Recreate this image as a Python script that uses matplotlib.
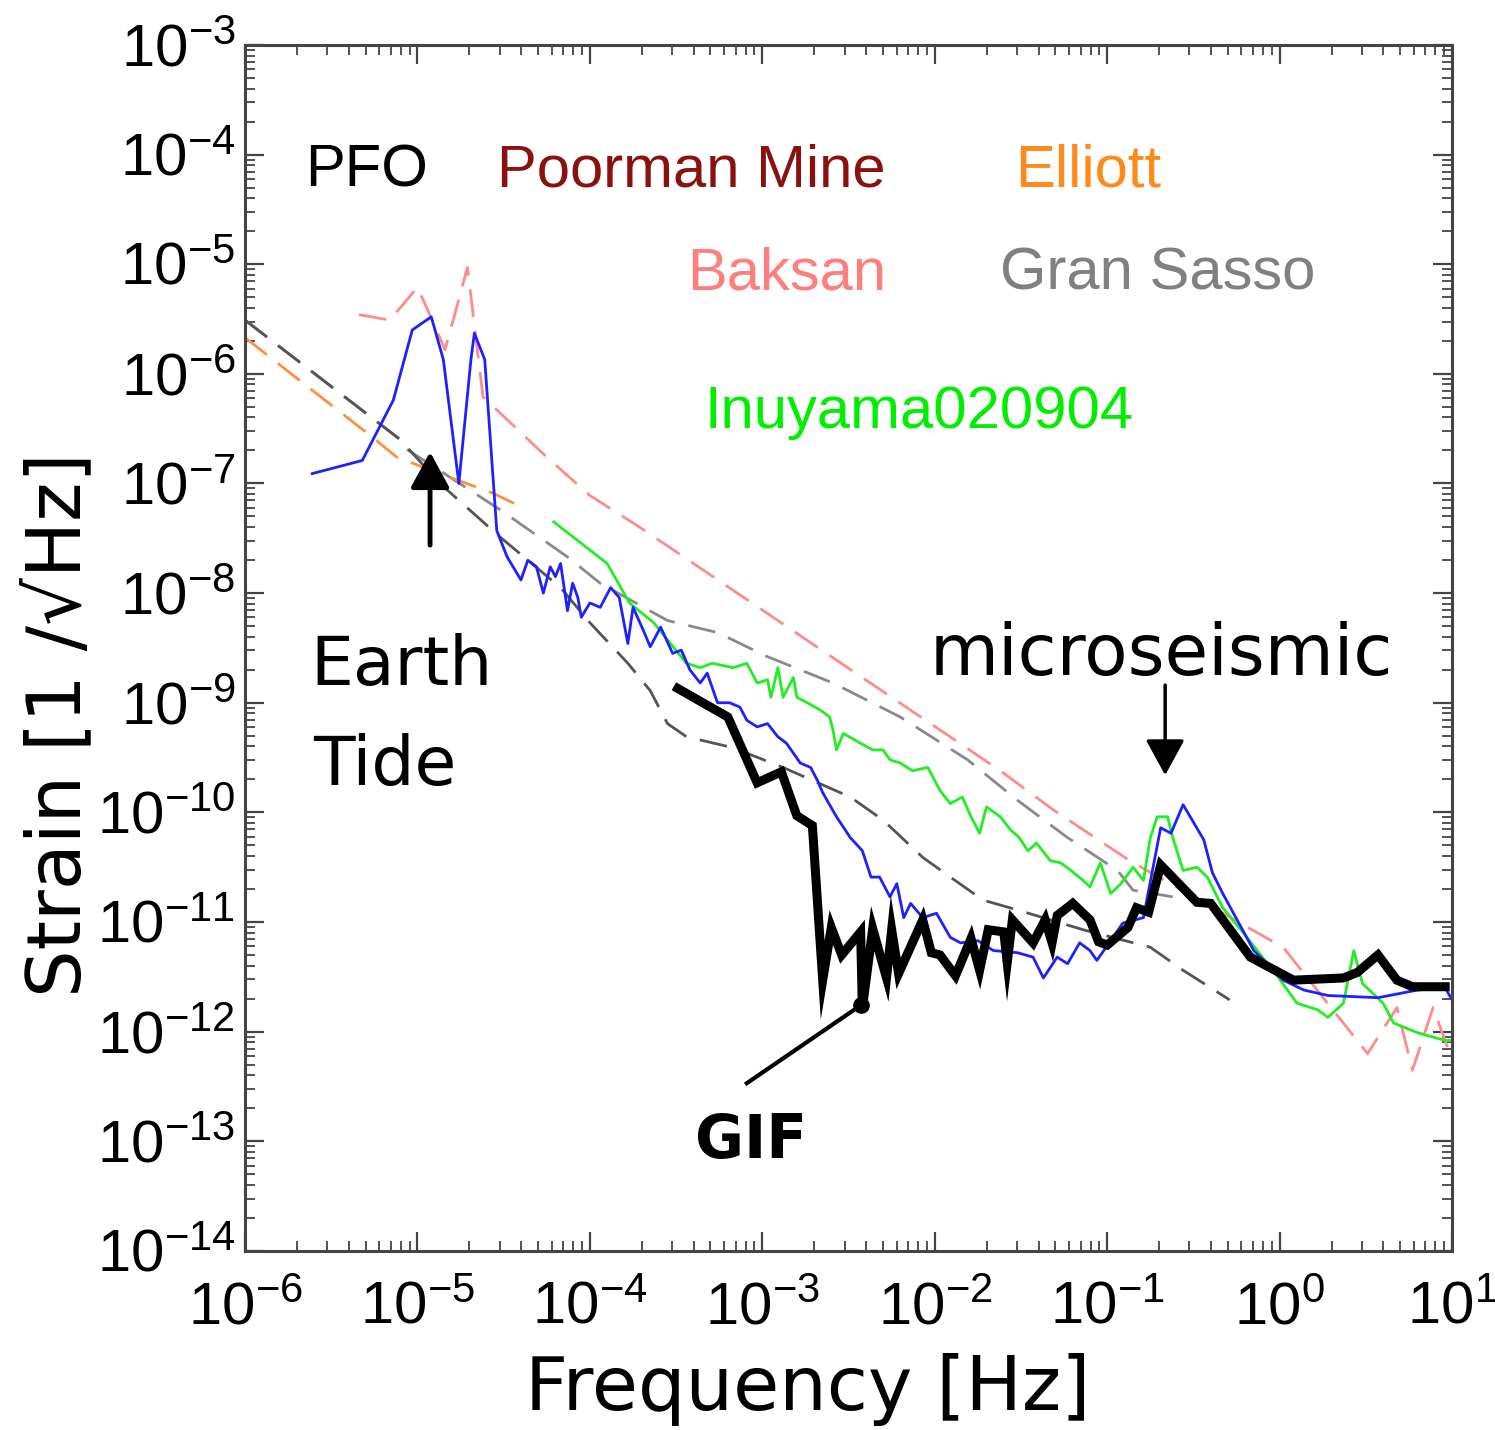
import matplotlib.pyplot as plt
from matplotlib.ticker import LogLocator, NullFormatter
import numpy as np

plt.rcParams['font.family'] = ['Liberation Sans', 'DejaVu Sans']
plt.rcParams['mathtext.default'] = 'regular'

# all values are log10: frequency [Hz] and strain [1/sqrt(Hz)]
blue_f = [-5.61, -5.32, -5.14, -5.03, -4.92, -4.85, -4.76, -4.69, -4.67, -4.61,
          -4.54, -4.48, -4.40, -4.36, -4.31, -4.27, -4.23, -4.20, -4.17, -4.13,
          -4.10, -4.07, -4.05, -4.00, -3.94, -3.88, -3.83, -3.78, -3.75, -3.69,
          -3.65, -3.59, -3.52, -3.47, -3.42, -3.36, -3.32, -3.26, -3.19, -3.13,
          -3.09, -3.03, -2.97, -2.91, -2.86, -2.78, -2.72, -2.68, -2.65, -2.57,
          -2.49, -2.42, -2.37, -2.32, -2.26, -2.22, -2.18, -2.14, -2.07, -1.99,
          -1.91, -1.85, -1.75, -1.66, -1.52, -1.43, -1.37, -1.29, -1.23, -1.16,
          -1.10, -1.06, -0.98, -0.91, -0.79, -0.69, -0.63, -0.56, -0.44, -0.39,
          -0.33, -0.15, 0.02, 0.14, 0.28, 0.57, 0.80, 0.96, 1.00]
blue_s = [-6.91, -6.79, -6.24, -5.60, -5.48, -5.87, -7.00, -5.87, -5.63, -5.87,
          -7.43, -7.67, -7.88, -7.70, -7.76, -8.00, -7.76, -7.85, -7.73, -8.16,
          -7.91, -8.04, -8.22, -8.09, -8.13, -7.95, -8.04, -8.46, -8.13, -8.34,
          -8.49, -8.31, -8.55, -8.52, -8.70, -8.82, -8.73, -9.00, -9.00, -9.04,
          -9.16, -9.22, -9.19, -9.31, -9.37, -9.55, -9.59, -9.71, -9.82, -10.04,
          -10.23, -10.35, -10.59, -10.59, -10.77, -10.65, -10.96, -10.83, -10.96, -10.92,
          -11.14, -11.19, -11.17, -11.26, -11.28, -11.32, -11.51, -11.32, -11.38, -11.19,
          -11.26, -11.35, -11.17, -11.01, -10.96, -10.14, -10.19, -9.93, -10.25, -10.55,
          -10.74, -11.26, -11.53, -11.62, -11.67, -11.69, -11.62, -11.60, -11.71]

inuyama_f = [-4.21, -3.90, -3.77, -3.63, -3.44, -3.36, -3.29, -3.17, -3.09, -3.03,
             -2.97, -2.95, -2.91, -2.88, -2.82, -2.80, -2.74, -2.66, -2.61, -2.59,
             -2.57, -2.53, -2.43, -2.36, -2.30, -2.26, -2.20, -2.13, -2.04, -1.97,
             -1.91, -1.84, -1.79, -1.74, -1.70, -1.62, -1.56, -1.51, -1.46, -1.41,
             -1.33, -1.27, -1.21, -1.14, -1.10, -1.04, -0.98, -0.92, -0.85, -0.79,
             -0.75, -0.71, -0.65, -0.62, -0.56, -0.48, -0.42, -0.33, -0.21, -0.01,
             0.10, 0.22, 0.28, 0.37, 0.43, 0.48, 0.60, 0.66, 0.80, 0.96, 1.00]
inuyama_s = [-7.35, -7.73, -8.09, -8.27, -8.64, -8.68, -8.64, -8.68, -8.64, -8.82,
             -8.79, -8.95, -8.68, -8.95, -8.77, -8.95, -9.00, -9.07, -9.13, -9.25,
             -9.43, -9.28, -9.37, -9.43, -9.43, -9.52, -9.55, -9.62, -9.59, -9.80,
             -9.92, -9.86, -10.04, -10.19, -9.95, -10.04, -10.16, -10.23, -10.35, -10.28,
             -10.44, -10.46, -10.53, -10.62, -10.68, -10.46, -10.74, -10.65, -10.50, -10.62,
             -10.23, -10.04, -10.04, -10.23, -10.53, -10.50, -10.59, -10.87, -11.10, -11.50,
             -11.74, -11.80, -11.87, -11.74, -11.26, -11.56, -11.74, -11.92, -12.01, -12.08, -12.08]

baksan_f = [-5.34, -5.16, -5.00, -4.96, -4.84, -4.71, -4.62, -4.25, -4.00, -3.71,
            -1.62, -1.31, -0.87, 0.02, 0.51, 0.68, 0.77, 0.89, 1.00]
baksan_s = [-5.46, -5.51, -5.21, -5.35, -5.78, -5.03, -6.21, -6.76, -7.11, -7.40,
            -9.62, -9.98, -10.44, -11.23, -12.20, -11.78, -12.35, -11.78, -12.26]

elliott_f = [-6.00, -5.26, -5.12, -4.87, -4.56, -4.39]
elliott_s = [-5.67, -6.58, -6.76, -6.91, -7.09, -7.22]

sasso_f = [-6.00, -5.10, -5.08, -4.52, -4.13, -3.94, -3.55, -3.26, -2.97, -2.59,
           -2.20, -1.81, -1.52, -1.23, -0.94, -0.85, -0.62]
sasso_s = [-5.51, -6.60, -6.67, -7.24, -7.67, -7.91, -8.25, -8.36, -8.58, -8.82,
           -9.13, -9.52, -9.89, -10.23, -10.53, -10.71, -10.77]

pfo_f = [-6.00, -5.10, -4.87, -4.52, -4.17, -4.00, -3.78, -3.65, -3.55, -3.44,
         -3.17, -2.88, -2.49, -2.30, -2.07, -1.91, -1.72, -1.52, -1.14, -0.75,
         -0.56, -0.29]
pfo_s = [-5.51, -6.60, -7.00, -7.49, -7.95, -8.27, -8.64, -8.89, -9.19, -9.31,
         -9.41, -9.59, -9.86, -10.07, -10.41, -10.59, -10.80, -10.89, -11.07, -11.23,
         -11.44, -11.71]

gif_f = [-3.49, -3.20, -3.03, -2.89, -2.80, -2.71, -2.65, -2.60, -2.54, -2.43,
         -2.42, -2.36, -2.28, -2.25, -2.21, -2.07, -2.02, -1.97, -1.88, -1.79,
         -1.74, -1.69, -1.60, -1.58, -1.55, -1.43, -1.36, -1.32, -1.29, -1.20,
         -1.10, -1.05, -1.00, -0.88, -0.83, -0.76, -0.69, -0.48, -0.40, -0.17,
         0.08, 0.37, 0.45, 0.57, 0.68, 0.77, 0.96]
gif_s = [-8.87, -9.13, -9.73, -9.63, -10.03, -10.12, -11.53, -11.05, -11.30, -11.09,
         -11.79, -11.06, -11.51, -11.07, -11.47, -10.98, -11.28, -11.30, -11.49, -11.15,
         -11.44, -11.07, -11.09, -11.37, -10.98, -11.19, -10.98, -11.19, -10.94, -10.83,
         -10.98, -11.18, -11.21, -11.05, -10.87, -10.91, -10.48, -10.82, -10.83, -11.32,
         -11.53, -11.51, -11.46, -11.30, -11.53, -11.59, -11.59]


def p(a):
    return 10 ** np.asarray(a)


fig = plt.figure(figsize=(14.95, 14.30), dpi=100)
ax = fig.add_axes([0.1639, 0.1252, 0.8074, 0.8434])

ax.plot(p(baksan_f), p(baksan_s), color='#ff8c8c', lw=2.0, dashes=(10, 5))
ax.plot(p(sasso_f), p(sasso_s), color='#8a8a8a', lw=2.0, dashes=(10, 5))
ax.plot(p(pfo_f), p(pfo_s), color='#555555', lw=2.0, dashes=(10, 5))
ax.plot(p(elliott_f), p(elliott_s), color='#ff9040', lw=2.0, dashes=(10, 5))
ax.plot(p(inuyama_f), p(inuyama_s), color='#22ee22', lw=2.0)
ax.plot(p(blue_f), p(blue_s), color='#2020ff', lw=2.0)
ax.plot(p(gif_f), p(gif_s), color='black', lw=6.5, solid_joinstyle='miter')

ax.set_xscale('log')
ax.set_yscale('log')
ax.set_xlim(1e-6, 1e1)
ax.set_ylim(1e-14, 1e-3)

for axis in (ax.xaxis, ax.yaxis):
    axis.set_major_locator(LogLocator(base=10, numticks=20))
    axis.set_minor_locator(LogLocator(base=10, subs=np.arange(2, 10), numticks=20))
    axis.set_minor_formatter(NullFormatter())

ax.tick_params(which='both', direction='in', top=True, right=True, colors='#444444',
               labelcolor='black', labelsize=43)
ax.tick_params(which='major', length=14, width=1.6)
ax.tick_params(which='minor', length=7, width=1.3)
ax.tick_params(axis='x', pad=22)
ax.tick_params(axis='y', pad=7)
for s in ax.spines.values():
    s.set_color('#444444')
    s.set_linewidth(2.2)

# station names
names = [('PFO', 0.0497, 0.883, 'black'),
         ('Poorman Mine', 0.209, 0.883, '#8b1010'),
         ('Elliott', 0.638, 0.883, '#ff8a1a'),
         ('Baksan', 0.366, 0.797, '#ff7f7f'),
         ('Gran Sasso', 0.6255, 0.797, '#808080'),
         ('Inuyama020904', 0.381, 0.6824, '#00ee00')]
for t, x, y, c in names:
    ax.text(x, y, t, color=c, fontsize=43, transform=ax.transAxes,
            ha='left', va='baseline')

dv = 'DejaVu Sans'

ax.text(0.0539, 0.4693, 'Earth', fontsize=49, family=dv, transform=ax.transAxes,
        ha='left', va='baseline')
ax.text(0.0564, 0.3864, 'Tide', fontsize=49, family=dv, transform=ax.transAxes,
        ha='left', va='baseline')
ax.text(0.5675, 0.4776, 'microseismic', fontsize=51, family=dv, transform=ax.transAxes,
        ha='left', va='baseline')
ax.text(0.3728, 0.0771, 'GIF', fontsize=43, weight='bold', family=dv,
        transform=ax.transAxes, ha='left', va='baseline')

ax.annotate('', xy=(10 ** -4.927, 10 ** -6.713), xytext=(10 ** -4.927, 10 ** -7.562),
            arrowprops=dict(arrowstyle='-|>,head_length=0.55,head_width=0.3',
                            lw=3.5, color='black', mutation_scale=40,
                            shrinkA=0, shrinkB=0))
ax.annotate('', xy=(10 ** -0.664, 10 ** -9.661), xytext=(10 ** -0.664, 10 ** -8.839),
            arrowprops=dict(arrowstyle='-|>,head_length=0.55,head_width=0.3',
                            lw=2.5, color='black', mutation_scale=40,
                            shrinkA=0, shrinkB=0))
ax.plot([10 ** -3.09, 10 ** -2.43], [10 ** -12.47, 10 ** -11.76], color='black', lw=3)
ax.plot([10 ** -2.43], [10 ** -11.76], 'o', color='black', ms=11)

fig.text(60 / 1495, 1 - 725 / 1430, 'Strain [1 /\u221aHz]', rotation=90, fontsize=54,
         family=dv, ha='center', va='center')
fig.text(808 / 1495, 1 - 1410 / 1430, 'Frequency [Hz]', fontsize=54, family=dv,
         ha='center', va='baseline')

fig.savefig('out.png', dpi=100)
